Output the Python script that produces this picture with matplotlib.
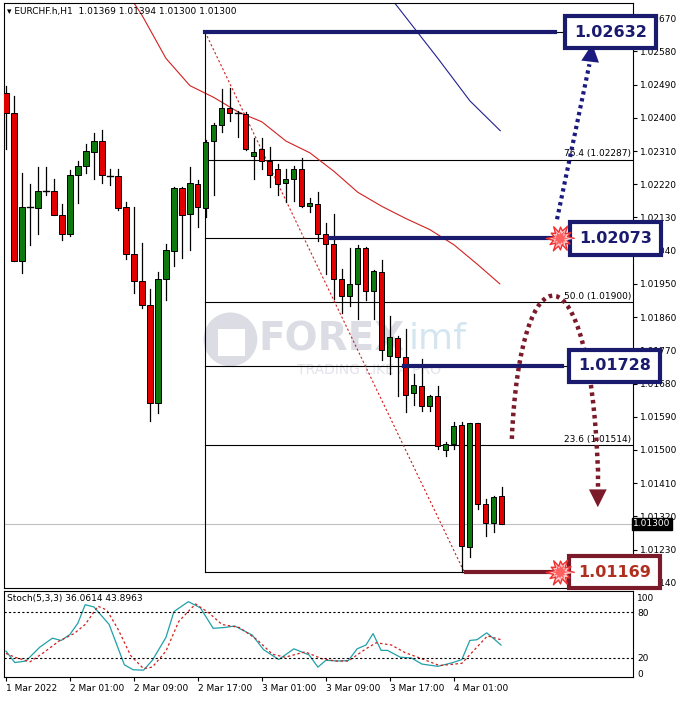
import matplotlib
matplotlib.use("Agg")
import matplotlib.pyplot as plt
from matplotlib.patches import Rectangle, PathPatch
from matplotlib.path import Path
import numpy as np

# ---------------- data ----------------
opens = [1.02468,1.02414,1.02013,1.02157,1.02155,1.02201,1.02201,1.02136,1.02084,1.02245,
         1.02269,1.02307,1.02337,1.02242,1.02242,1.02157,1.02032,1.01958,1.01893,1.01626,
         1.01964,1.02040,1.02209,1.02138,1.02220,1.02155,1.02338,1.02381,1.02427,1.02414,
         1.02411,1.02296,1.02316,1.02283,1.02261,1.02223,1.02234,1.02261,1.02160,1.02166,
         1.02084,1.02059,1.01964,1.01918,1.01950,1.02048,1.01931,1.01983,1.01754,1.01803,
         1.01751,1.01653,1.01672,1.01620,1.01645,1.01500,1.01516,1.01568,1.01238,1.01574,
         1.01353,1.01301,1.01375]
closes = [1.02414,1.02013,1.02157,1.02157,1.02201,1.02201,1.02136,1.02086,1.02245,1.02269,
          1.02310,1.02337,1.02245,1.02242,1.02155,1.02032,1.01958,1.01893,1.01626,1.01964,
          1.02043,1.02209,1.02136,1.02222,1.02157,1.02335,1.02381,1.02427,1.02414,1.02414,
          1.02316,1.02307,1.02283,1.02245,1.02220,1.02234,1.02261,1.02160,1.02168,1.02084,
          1.02059,1.01964,1.01918,1.01950,1.02048,1.01931,1.01986,1.01770,1.01806,1.01751,
          1.01650,1.01675,1.01620,1.01645,1.01511,1.01516,1.01566,1.01241,1.01574,1.01353,
          1.01301,1.01372,1.01300]
highs = [1.02487,1.02460,1.02250,1.02220,1.02266,1.02266,1.02234,1.02166,1.02258,1.02283,
         1.02329,1.02359,1.02367,1.02261,1.02261,1.02171,1.02157,1.02062,1.01936,1.01983,
         1.02059,1.02212,1.02212,1.02266,1.02231,1.02340,1.02386,1.02479,1.02482,1.02419,
         1.02416,1.02345,1.02345,1.02321,1.02275,1.02261,1.02269,1.02291,1.02182,1.02198,
         1.02116,1.02138,1.01991,1.02046,1.02056,1.02051,1.01988,1.02016,1.01863,1.01808,
         1.01827,1.01707,1.01746,1.01650,1.01672,1.01522,1.01576,1.01576,1.01574,1.01574,
         1.01366,1.01375,1.01399]
lows = [1.02316,1.02013,1.01980,1.02054,1.02086,1.02190,1.02136,1.02070,1.02081,1.02168,
        1.02250,1.02234,1.02223,1.02217,1.02149,1.02018,1.01926,1.01885,1.01579,1.01601,
        1.01906,1.01999,1.02021,1.02043,1.02103,1.02130,1.02190,1.02362,1.02392,1.02348,
        1.02313,1.02234,1.02261,1.02212,1.02190,1.02171,1.02174,1.02157,1.02144,1.02065,
        1.01977,1.01909,1.01871,1.01890,1.01855,1.01906,1.01855,1.01743,1.01705,1.01647,
        1.01604,1.01623,1.01606,1.01606,1.01503,1.01484,1.01503,1.01169,1.01211,1.01339,
        1.01266,1.01279,1.01300]

ma_red_x = [16, 17, 20, 23, 26, 29, 32, 35, 38, 41, 44, 47, 50, 53, 56, 59, 61.75]
ma_red_y = [1.02711,1.02678,1.02561,1.02487,1.02455,1.02416,1.02389,1.02337,1.02305,1.02255,
            1.02198,1.02160,1.02127,1.02097,1.02056,1.02002,1.01950]
ma_blue_x = [48.6, 54, 58, 61.8]
ma_blue_y = [1.02711, 1.02561, 1.02446, 1.02365]

fib_high, fib_low = 1.02632, 1.01169
fib_levels = [76.4, 61.8, 50.0, 38.2, 23.6]
level_labels = ["1.02632", "1.02073", "1.01728", "1.01169"]
level_values = [1.02632, 1.02073, 1.01728, 1.01169]

k_x = [0,1.1,2.5,4.2,5.8,6.9,8,9,9.9,11,12.9,14.8,15.9,17.2,18.3,20,21,22.8,24.3,25.9,27.3,28.6,
       30.8,32.2,34.1,36,37.9,39,40,41.4,42.8,43.9,45,45.9,46.9,47.7,49.3,50.7,52,54,55.9,57,58,
       58.9,60.1,60.8,61.9]
k_v = [29,14,16,34,46,43,51,66,90,87,64,11,4.5,4,17,47,81,94,86,59,60,62,50,31,18,32,24,8,17,16,
       16.5,32,37,52,30,30,21,20,12,9,14,18,43,44,53,47,37]
d_x = [0,1.1,3,4.7,6.6,8.5,9.9,11.5,12.6,14,15.6,17.2,18.3,20,21.6,23.7,25.4,27,29.2,31.4,33.3,
       34.9,37.4,39.5,41.2,42.8,45,46.3,48.2,49.9,52,54.2,57,58.6,60.2,61.9]
d_v = [26,21,15,27,42,52,64,88,83,58,23,6,8,29,68,91,79,64,60,44,25,21,28,19,16,16,32,40,37,27,
       19,10,13,31,49,44]

date_labels = ["1 Mar 2022", "2 Mar 01:00", "2 Mar 09:00", "2 Mar 17:00", "3 Mar 01:00",
               "3 Mar 09:00", "3 Mar 17:00", "4 Mar 01:00"]
date_pos = [0, 8, 16, 24, 32, 40, 48, 56]

# ---------------- figure ----------------
W, H = 682, 702
fig = plt.figure(figsize=(W/100, H/100), dpi=100)
def rect(l, t, r, b):
    return [l/W, 1 - b/H, (r-l)/W, (b-t)/H]

XL = (-0.25, 78.4)
ax = fig.add_axes(rect(4, 3, 633, 588))
ax2 = fig.add_axes(rect(4, 591, 633, 677))
FS = 6.5

# candles
for i, (o, h, l, c) in enumerate(zip(opens, highs, lows, closes)):
    ax.plot([i, i], [l, h], color='black', lw=0.9, zorder=3)
    if abs(c - o) < 0.00003:
        ax.plot([i-0.35, i+0.35], [o, o], color='black', lw=1.0, zorder=4)
    else:
        col = '#0e7a0e' if c > o else '#e00000'
        ax.add_patch(Rectangle((i-0.32, min(o, c)), 0.64, abs(c-o), facecolor=col,
                               edgecolor='black', lw=0.7, zorder=4))

ax.plot(ma_red_x, ma_red_y, color='#d42020', lw=0.8, zorder=2)
ax.plot(ma_blue_x, ma_blue_y, color='#202090', lw=0.8, zorder=2)

# fibonacci
x0 = 24.9
ax.plot([x0, x0], [fib_low, fib_high], color='black', lw=0.8)
ax.plot([x0, 57.3], [fib_high, fib_low], color='#d02020', lw=0.8, ls=(0, (2, 2)))
for lv in fib_levels + [0, 100]:
    p = fib_low + lv/100*(fib_high - fib_low)
    ax.plot([x0, 78.4], [p, p], color='black', lw=0.8, zorder=1)
    if lv in (76.4, 50.0, 23.6):
        ax.text(78.2, p + 0.00003, f"{lv:.1f} ({p:.5f})", fontsize=FS, ha='right', va='bottom')
# price line
ax.axhline(1.01300, color='#c0c0c0', lw=0.8, zorder=1)

# thick level lines
ax.plot([x0, 68.6], [1.02632, 1.02632], color='#1a1a6e', lw=3, zorder=5)
ax.plot([40.5, 69.5], [1.02073, 1.02073], color='#1a1a6e', lw=3, zorder=5)
ax.plot([49.8, 69.5], [1.01728, 1.01728], color='#1a1a6e', lw=3, zorder=5)
ax.plot([57.5, 69.5], [1.01169, 1.01169], color='#7a1a2a', lw=3, zorder=5)

# boxes
box_x = [75.6, 76.2, 76.1, 76.1]
for lab, val, bx in zip(level_labels, level_values, box_x):
    col = '#7a1a2a' if lab == "1.01169" else '#1a1a6e'
    tcol = '#b03020' if lab == "1.01169" else '#1a1a6e'
    ax.text(bx, val, lab, fontsize=11.5, fontweight='bold', color=tcol, ha='center', va='center',
            zorder=10, clip_on=False,
            bbox=dict(boxstyle='square,pad=0.55', facecolor='white', edgecolor=col, lw=3))

# starbursts
ang = np.linspace(0, 2*np.pi, 24, endpoint=False)
rad = np.array([1.0, 0.5, 0.85, 0.45, 1.0, 0.55, 0.8, 0.45, 0.95, 0.5, 0.75, 0.45] * 2)
star = list(zip(rad*np.cos(ang), rad*np.sin(ang)))
for y in (1.02073, 1.01169):
    ax.scatter([69.3], [y], marker=star, s=420, facecolor='#ffd0d0', edgecolor='#ee3030',
               lw=1, zorder=11, clip_on=False)
    ax.scatter([69.3], [y], marker=star, s=150, facecolor='#ff6060', edgecolor='none',
               zorder=12, clip_on=False)

# blue dotted arrow
ax.plot([68.9, 72.95], [1.02125, 1.02545], color='#1a1a80', lw=3, ls=(0, (0.8, 0.9)), zorder=6)
ax.annotate('', xy=(73.3, 1.02600), xytext=(72.65, 1.02480),
            arrowprops=dict(arrowstyle='-|>', color='#1a1a80', mutation_scale=32, lw=0,
                            shrinkA=0, shrinkB=0))

# maroon curved arrow
verts = [(63.25, 1.01530), (64.3, 1.02060), (73.0, 1.02060), (74.0, 1.01450)]
pp = PathPatch(Path(verts, [Path.MOVETO, Path.CURVE4, Path.CURVE4, Path.CURVE4]),
               fill=False, edgecolor='#7a1a2a', lw=3.2, ls=(0, (0.8, 0.9)), zorder=6)
ax.add_patch(pp)
ax.plot([74.0, 74.0], [1.01450, 1.01390], color='#7a1a2a', lw=3.2, ls=(0, (0.8, 0.9)), zorder=6)
ax.annotate('', xy=(74.0, 1.01345), xytext=(74.0, 1.01455),
            arrowprops=dict(arrowstyle='-|>', color='#7a1a2a', mutation_scale=32, lw=0,
                            shrinkA=0, shrinkB=0))

# watermark
ax.scatter([0.36], [0.425], s=1500, color='#dcdce4', transform=ax.transAxes, zorder=0,
           edgecolor='none')
ax.scatter([0.362], [0.42], s=380, color='white', marker='s', transform=ax.transAxes, zorder=0,
           edgecolor='none')
ax.text(0.52, 0.425, "FOREX", transform=ax.transAxes, fontsize=28, fontweight='bold',
        color='#dcdce4', ha='center', va='center', zorder=0)
ax.text(0.69, 0.425, "imf", transform=ax.transAxes, fontsize=26, color='#d5e6f0',
        ha='center', va='center', zorder=0)
ax.text(0.58, 0.372, "TRADING LIKE A PRO", transform=ax.transAxes, fontsize=10,
        color='#e2e2ea', ha='center', va='center', zorder=0)

ax.text(0.005, 0.993, "\u25BE EURCHF.h,H1  1.01369 1.01394 1.01300 1.01300",
        transform=ax.transAxes, fontsize=FS, va='top', ha='left')

ax.set_xlim(*XL)
ax.set_ylim(1.01126, 1.02711)
ticks = [1.02670 - 0.0009*k for k in range(18)]
ax.yaxis.tick_right()
ax.set_yticks(ticks)
ax.set_yticklabels([f"{t:.5f}" for t in ticks])
ax.tick_params(axis='y', labelsize=FS, length=3, pad=2)
ax.set_xticks([])
ax.text(1.0, 1.01300, "1.01300", transform=ax.get_yaxis_transform(), fontsize=FS, color='white',
        ha='left', va='center', zorder=12, clip_on=False,
        bbox=dict(boxstyle='square,pad=0.15', facecolor='black', edgecolor='black'))
for s in ax.spines.values():
    s.set_linewidth(0.8)

# stochastic
ax2.plot(k_x, k_v, color='#20a0a8', lw=0.9)
ax2.plot(d_x, d_v, color='#d02020', lw=0.9, ls=(0, (2, 2)))
for lv in (80, 20):
    ax2.axhline(lv, color='black', lw=0.8, ls=(0, (2, 2)))
ax2.text(0.005, 0.96, "Stoch(5,3,3) 36.0614 43.8963", transform=ax2.transAxes,
         fontsize=FS, va='top')
ax2.set_xlim(*XL)
ax2.set_ylim(-5, 108)
ax2.yaxis.tick_right()
ax2.set_yticks([100, 80, 20, 0])
ax2.tick_params(axis='y', labelsize=FS, length=0, pad=3)
ax2.set_xticks(date_pos)
ax2.set_xticklabels(date_labels, ha='left')
ax2.tick_params(axis='x', labelsize=FS, length=3, pad=2)
for s in ax2.spines.values():
    s.set_linewidth(0.8)

fig.savefig("out.png", dpi=100)
